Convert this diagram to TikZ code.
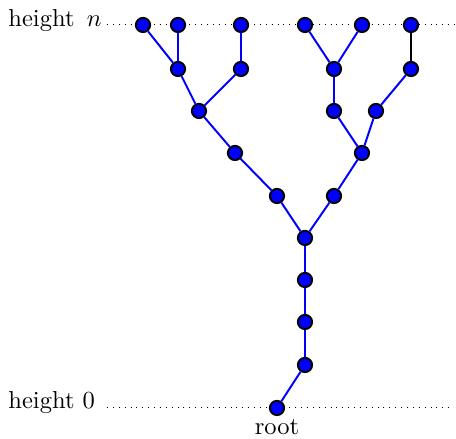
\documentclass[tikz,border=0pt]{standalone}
\begin{document}
\begin{tikzpicture}[x=0.408pt,y=-0.408pt,
  vtx/.style={circle,fill=blue,draw=black,line width=0.8pt,inner sep=0pt,minimum size=5.8pt},
  edge/.style={draw=blue,line width=0.8pt},
  bedge/.style={draw=black,line width=0.8pt},
  lbl/.style={anchor=base west,inner sep=0pt}]
\useasboundingbox (0,0) rectangle (456,439);
% dotted levels
\coordinate (tl) at (107,25);
\coordinate (tr) at (456,25);
\coordinate (bl) at (107,408);
\coordinate (br) at (450,408);
\draw[dotted] (tl) -- (tr);
\draw[dotted] (bl) -- (br);
\node[lbl] (hn) at (8,27) {height\hspace{5pt}$n$};
\node[lbl] (h0) at (8,409) {height 0};
% nodes
\node[vtx] (a1) at (143,25) {};
\node[vtx] (a2) at (178,25) {};
\node[vtx] (a3) at (241,25) {};
\node[vtx] (a4) at (305,25) {};
\node[vtx] (a5) at (362,25) {};
\node[vtx] (a6) at (411,25) {};
\node[vtx] (b1) at (178,69) {};
\node[vtx] (b2) at (241,69) {};
\node[vtx] (b3) at (334,69) {};
\node[vtx] (b4) at (411,69) {};
\node[vtx] (c1) at (199,111) {};
\node[vtx] (c2) at (334,111) {};
\node[vtx] (c3) at (376,111) {};
\node[vtx] (d1) at (235,153) {};
\node[vtx] (d2) at (362,153) {};
\node[vtx] (e1) at (277,196) {};
\node[vtx] (e2) at (334,196) {};
\node[vtx] (f) at (305,238) {};
\node[vtx] (g1) at (305,280) {};
\node[vtx] (g2) at (305,322) {};
\node[vtx] (g3) at (305,365) {};
\node[vtx] (r) at (277,408) {};
\node[anchor=base,inner sep=0pt] (rl) at (277,435) {root};
% edges
\draw[edge] (a1) -- (b1);
\draw[edge] (a2) -- (b1);
\draw[edge] (a3) -- (b2);
\draw[edge] (b1) -- (c1);
\draw[edge] (b2) -- (c1);
\draw[edge] (c1) -- (d1);
\draw[edge] (d1) -- (e1);
\draw[edge] (e1) -- (f);
\draw[edge] (a4) -- (b3);
\draw[edge] (a5) -- (b3);
\draw[edge] (b3) -- (c2);
\draw[edge] (c2) -- (d2);
\draw[bedge] (a6) -- (b4);
\draw[edge] (b4) -- (c3);
\draw[edge] (c3) -- (d2);
\draw[edge] (d2) -- (e2);
\draw[edge] (e2) -- (f);
\draw[edge] (f) -- (g1);
\draw[edge] (g1) -- (g2);
\draw[edge] (g2) -- (g3);
\draw[edge] (g3) -- (r);
\end{tikzpicture}
\end{document}
